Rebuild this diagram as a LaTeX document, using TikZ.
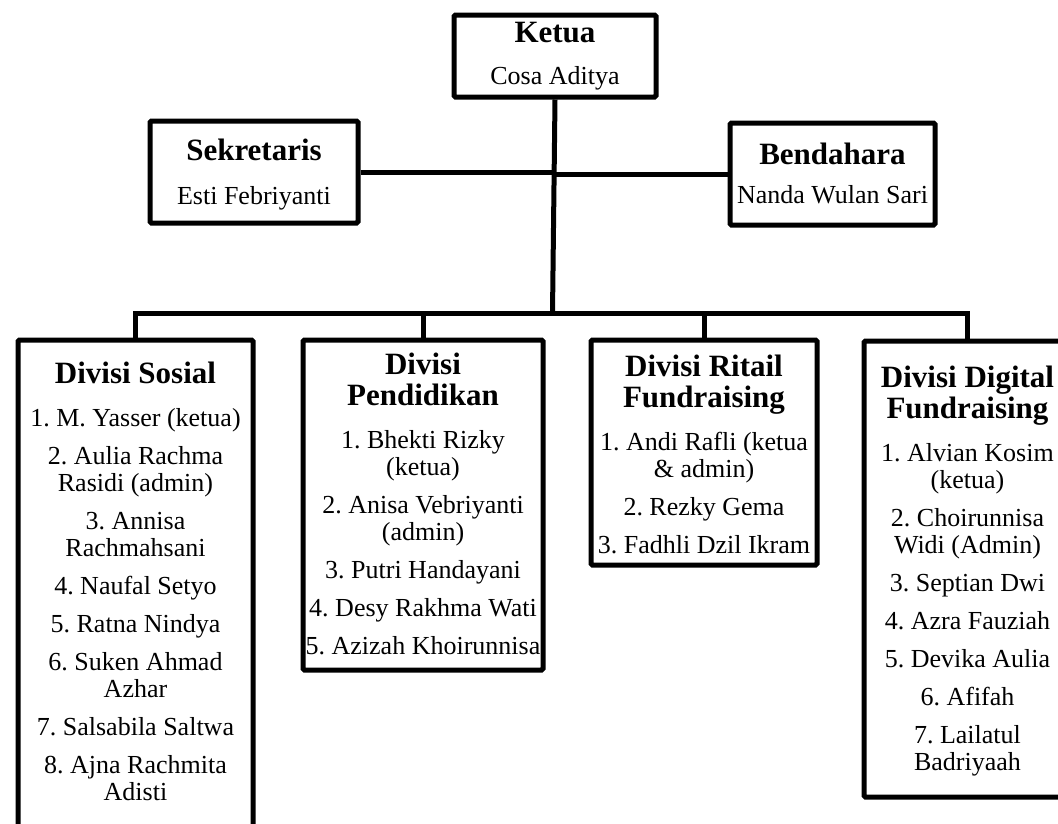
\documentclass[tikz,border=0pt]{standalone}
\usepackage{fontspec}
\setmainfont{Liberation Serif}
\tikzset{
  orgbox/.style={draw, line width=5pt, rounded corners=1.5pt, inner sep=0pt, anchor=north west, fill=white},
  conn/.style={line width=5pt},
}
% width, height, first-baseline offset, extra gap after title, title, body
\newcommand{\orgtext}[6]{%
  \begin{minipage}[c][#2][t]{#1}\centering\frenchspacing
  {\fontsize{31}{31}\selectfont\bfseries\rule{0pt}{#3}#5\par}%
  \vspace{#4}%
  {\fontsize{26}{27}\selectfont\setlength{\parskip}{11pt}#6\par}%
  \end{minipage}}
\begin{document}
\begin{tikzpicture}[x=1pt,y=-1pt]
\useasboundingbox (0,0) rectangle (1058,823);
\clip (0,0) rectangle (1058,823);

\node[orgbox] (ketua) at (451.5,12.5) {\orgtext{202pt}{82pt}{27.5pt}{4pt}{Ketua}{Cosa Aditya}};
\node[orgbox] (sek) at (147.5,118.5) {\orgtext{208pt}{102pt}{39.5pt}{6pt}{Sekretaris}{Esti Febriyanti}};
\node[orgbox] (bend) at (727.5,120.5) {\orgtext{205pt}{102pt}{41.5pt}{1pt}{Bendahara}{Nanda Wulan Sari}};

\node[orgbox] (sos) at (15.5,337.5) {\orgtext{235pt}{520pt}{43.5pt}{5pt}{Divisi Sosial}{%
1. M. Yasser (ketua)\par
2. Aulia Rachma\\Rasidi (admin)\par
3. Annisa\\Rachmahsani\par
4. Naufal Setyo\par
5. Ratna Nindya\par
6. Suken Ahmad\\Azhar\par
7. Salsabila Saltwa\par
8. Ajna Rachmita\\Adisti}};

\node[orgbox] (pend) at (300.5,337.5) {\orgtext{240pt}{330pt}{34.5pt}{5pt}{Divisi\\Pendidikan}{%
1. Bhekti Rizky\\(ketua)\par
2. Anisa Vebriyanti\\(admin)\par
3. Putri Handayani\par
4. Desy Rakhma Wati\par
5. Azizah Khoirunnisa}};

\node[orgbox] (rit) at (588.5,337.5) {\orgtext{226pt}{225pt}{36.5pt}{5pt}{Divisi Ritail\\Fundraising}{%
1. Andi Rafli (ketua\\\& admin)\par
2. Rezky Gema\par
3. Fadhli Dzil Ikram}};

\node[orgbox] (dig) at (861.5,338.5) {\orgtext{207pt}{456pt}{46.5pt}{5pt}{Divisi Digital\\Fundraising}{%
1. Alvian Kosim\\(ketua)\par
2. Choirunnisa\\Widi (Admin)\par
3. Septian Dwi\par
4. Azra Fauziah\par
5. Devika Aulia\par
6. Afifah\par
7. Lailatul\\Badriyaah}};

\coordinate (bus) at (552.5,313);
\draw[conn] (ketua.south) -- (bus);
\draw[conn] (sek.east) -- (sek.east -| ketua.south);
\draw[conn] (bend.west) -- (bend.west -| ketua.south);
\draw[conn] (sos.north) -- (sos.north |- bus) -- (dig.north |- bus) -- (dig.north);
\draw[conn] (pend.north) -- (pend.north |- bus);
\draw[conn] (rit.north) -- (rit.north |- bus);
\end{tikzpicture}
\end{document}
